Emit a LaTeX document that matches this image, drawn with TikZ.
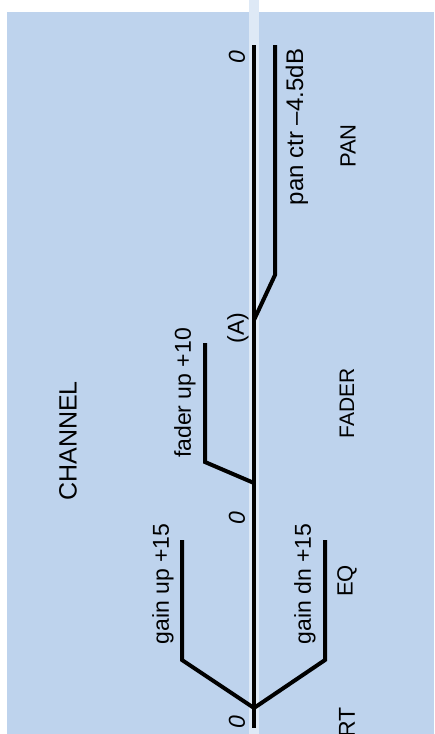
\documentclass[tikz,border=0pt]{standalone}
\usepackage{fontspec}
\setmainfont{Liberation Sans}
\definecolor{bgblue}{RGB}{190,211,237}
\definecolor{stripblue}{RGB}{222,233,246}
\newcommand{\fsz}[1]{\fontsize{#1}{#1}\selectfont}
\begin{document}
\begin{tikzpicture}[x=1pt,y=-1pt,
  lbl/.style={rotate=90,inner sep=0pt,font=\fsz{23}},
  zero/.style={lbl,font=\fsz{23}\itshape},
  trace/.style={line width=4pt,line join=miter,black}]
\useasboundingbox (0,0) rectangle (434,734);
\fill[white] (0,0) rectangle (434,734);
\fill[bgblue] (7,12) rectangle (434,734);
\fill[stripblue] (249,0) rectangle (259,734);
% coordinates
\coordinate (mtop) at (254,45);
\coordinate (mbot) at (254,728);
\coordinate (start) at (254,708);
\coordinate (gu1) at (182,660);
\coordinate (gu2) at (182,540);
\coordinate (gd1) at (325,660);
\coordinate (gd2) at (325,540);
\coordinate (fb) at (254,483);
\coordinate (f1) at (205,462);
\coordinate (f2) at (205,343);
\coordinate (pb) at (254,320);
\coordinate (p1) at (275,275);
\coordinate (p2) at (275,45);
% traces
\draw[trace] (mtop) -- (mbot);
\draw[trace] (gu2) -- (gu1) -- (start) -- (gd1) -- (gd2);
\draw[trace] (fb) -- (f1) -- (f2);
\draw[trace] (pb) -- (p1) -- (p2);
% labels
\node[zero] (z1) at (237,57) {0};
\node[zero] (z2) at (237,518) {0};
\node[zero] (z3) at (237,722) {0};
\node[lbl,font=\fsz{24}] (pan) at (297,127) {pan ctr –4.5dB};
\node[lbl,font=\fsz{22}] (panT) at (348,146) {PAN};
\node[lbl] (A) at (238,328) {(A)};
\node[lbl] (fup) at (185,393) {fader up +10};
\node[lbl,font=\fsz{25}] (chan) at (68,441) {CHANNEL};
\node[lbl,font=\fsz{21}] (fadT) at (347,403) {FADER};
\node[lbl] (gup) at (163,584) {gain up +15};
\node[lbl] (gdn) at (305,584) {gain dn +15};
\node[lbl,font=\fsz{22}] (eqT) at (347,581) {EQ};
\node[lbl,anchor=west] (rt) at (347,738) {RT};
\end{tikzpicture}
\end{document}
